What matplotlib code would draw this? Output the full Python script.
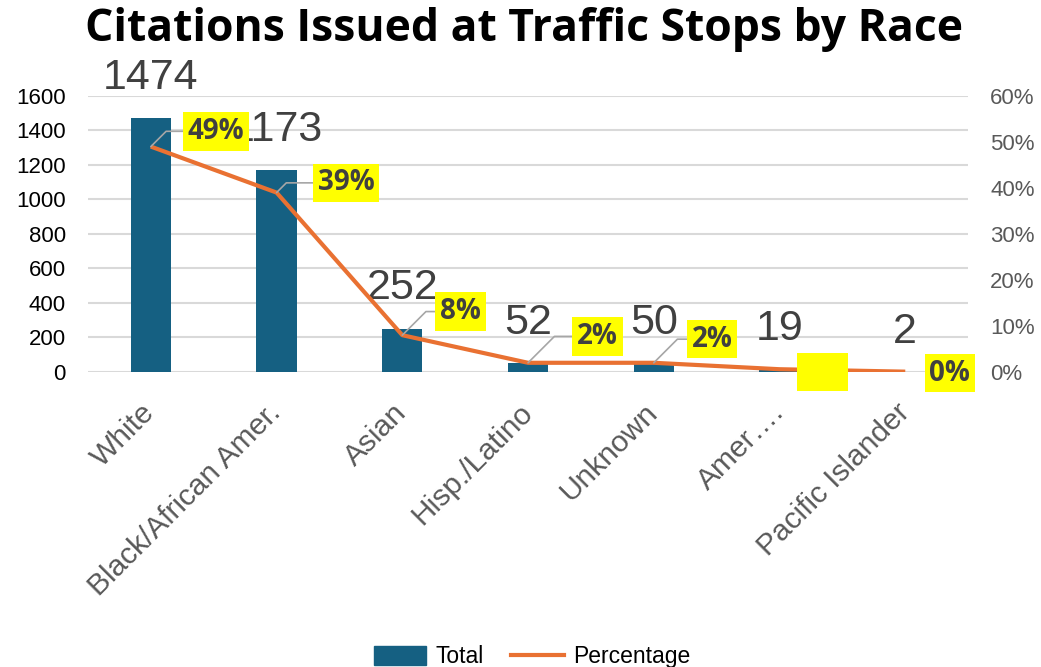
import matplotlib
matplotlib.use("Agg")
import matplotlib.pyplot as plt
from matplotlib.ticker import FuncFormatter
from matplotlib.patches import Patch
from matplotlib.lines import Line2D

plt.rcParams["font.family"] = ["Liberation Sans", "DejaVu Sans"]

# data
races = ["White", "Black/African Amer.", "Asian", "Hisp./Latino", "Unknown", "Amer….", "Pacific Islander"]
totals = [1474, 1173, 252, 52, 50, 19, 2]
pct = [0.49, 0.39, 0.08, 0.02, 0.02, 0.006, 0.0007]
pct_labels = ["49%", "39%", "8%", "2%", "2%", "", "0%"]
# offsets of the % boxes from their point (points)
pct_offsets = [(47, 11), (50, 7), (42, 17), (50, 19), (42, 17), (31, -2), (32, -1)]

bar_color = "#156082"
line_color = "#E97132"

fig = plt.figure(figsize=(10.41, 6.67), dpi=100)
ax = fig.add_axes([0.0845, 0.4423, 0.8455, 0.4138])
ax2 = ax.twinx()

x = range(len(races))
ax.bar(x, totals, width=0.32, color=bar_color, zorder=2)
ax.set_ylim(0, 1600)
ax.set_xlim(-0.5, len(races) - 0.5)
ax.set_yticks(range(0, 1601, 200))
ax.grid(axis="y", color="#D9D9D9", linewidth=1.5, zorder=0)
ax.set_axisbelow(True)

for i, v in enumerate(totals):
    ax.annotate(str(v), (i, v), xytext=(0, 14.5), textcoords="offset points",
                ha="center", va="bottom", fontsize=31, color="#404040")

ax2.plot(x, pct, color=line_color, linewidth=3, solid_capstyle="butt")
ax2.set_ylim(0, 0.6)
ax2.set_yticks([i / 10 for i in range(7)])
ax2.yaxis.set_major_formatter(FuncFormatter(lambda v, p: f"{v:.0%}"))

for i, (p, lab) in enumerate(zip(pct, pct_labels)):
    dx, dy = pct_offsets[i]
    txt = lab if lab else "0%"
    col = "#404040" if lab else "#FFFF00"
    arrow = None
    if dy > 3:
        arrow = dict(arrowstyle="-", color="#A6A6A6", lw=1.2, shrinkA=0, shrinkB=0,
                     connectionstyle="angle,angleA=0,angleB=45,rad=0")
    ax2.annotate(txt, (i, p), xytext=(dx, dy), textcoords="offset points",
                 ha="center", va="center", fontsize=20, fontweight="bold",
                 family=["Open Sans", "DejaVu Sans"], color=col,
                 bbox=dict(boxstyle="square,pad=0.17", fc="#FFFF00", ec="none"),
                 arrowprops=arrow, zorder=5)

for a in (ax, ax2):
    for s in a.spines.values():
        s.set_visible(False)

ax.tick_params(axis="y", length=0, pad=16, labelsize=16, labelcolor="#000000")
ax2.tick_params(axis="y", length=0, pad=16, labelsize=16, labelcolor="#595959")
ax.tick_params(axis="x", length=0, pad=26)
ax.set_xticks(list(x))
ax.set_xticklabels(races, rotation=45, ha="right", va="center", rotation_mode="anchor",
                   fontsize=21.5, color="#595959")

fig.suptitle("Citations Issued at Traffic Stops by Race", x=0.503, y=0.99, va="top",
             fontsize=32, fontweight="bold", family=["Open Sans", "DejaVu Sans"])

handles = [Patch(color=bar_color), Line2D([], [], color=line_color, linewidth=3)]
fig.legend(handles, ["Total", "Percentage"], loc="lower center", bbox_to_anchor=(0.511, -0.033),
           ncol=2, frameon=False, fontsize=16.5, handlelength=2.3, handleheight=0.9,
           handletextpad=0.4, columnspacing=1.2)

fig.savefig("out.png", dpi=100)
